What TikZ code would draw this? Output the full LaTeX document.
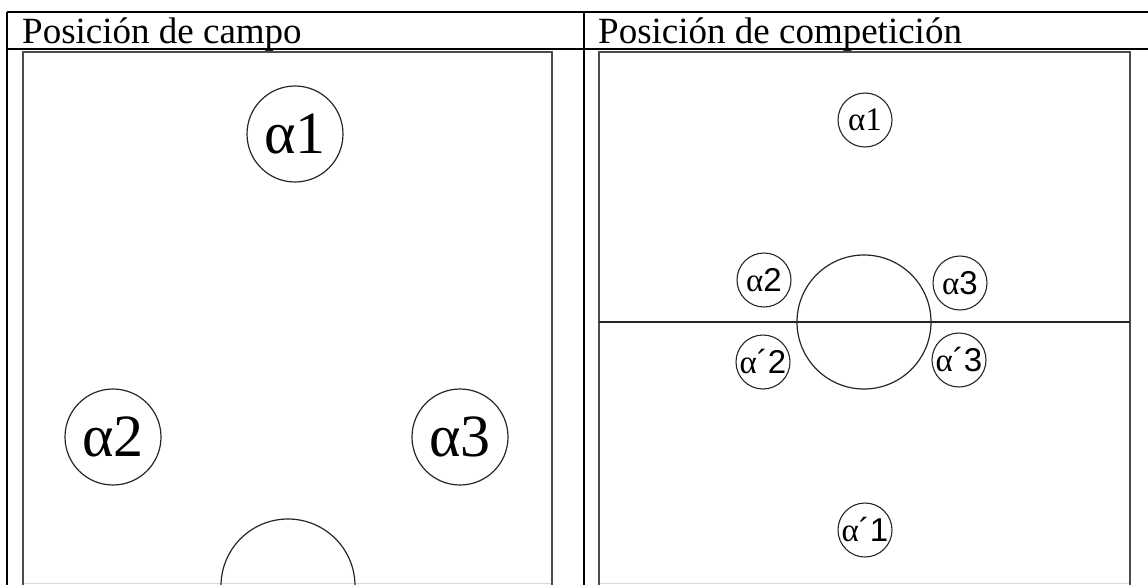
\documentclass[tikz,border=0pt]{standalone}
\usepackage{fontspec}
\setmainfont{Liberation Serif}
\newfontfamily\sansf{Liberation Sans}
\begin{document}
\begin{tikzpicture}[x=1pt,y=-1pt,
  tabline/.style={line width=2.4pt,black},
  panel/.style={line width=1.4pt,draw=black!70},
  bigpos/.style={circle,draw=black!85,line width=1.2pt,minimum size=96pt,inner sep=0pt,font=\fontsize{60}{60}\selectfont},
  smallpos/.style={circle,draw=black!85,line width=1.1pt,minimum size=54pt,inner sep=0pt,font=\fontsize{33}{33}\selectfont},
  head/.style={anchor=base west,inner sep=0pt,font=\fontsize{37}{37}\selectfont}]
\useasboundingbox (0,0) rectangle (1148,584);
% table
\draw[tabline] (7,12) -- (1150,12);
\draw[tabline] (7,49) -- (1150,49);
\draw[tabline] (7,12) -- (7,590);
\draw[tabline] (584,12) -- (584,590);
\node[head] (h1) at (22,43) {Posición de campo};
\node[head] (h2) at (598,43) {Posición de competición};
% left panel
\draw[panel] (23,590) -- (23,52) -- (552,52) -- (552,590);
\draw[black!15,line width=1pt] (24,583) -- (551,583);
\node[bigpos] (a1) at (295,134) {α1};
\node[bigpos] (a2) at (113,437) {α2};
\node[bigpos] (a3) at (460,437) {α3};
\node[circle,draw=black!85,line width=1.2pt,minimum size=134pt,inner sep=0pt] (c1) at (288,586) {};
% right panel
\draw[panel] (599,590) -- (599,52) -- (1130,52) -- (1130,590);
\draw[black!15,line width=1pt] (600,583) -- (1129,583);
\node[circle,draw=black!85,line width=1.2pt,minimum size=134pt,inner sep=0pt] (c2) at (864,322) {};
\coordinate (ml) at (599,322);
\coordinate (mr) at (1130,322);
\draw[black!85,line width=1.2pt] (ml) -- (mr);
\node[smallpos] (b1) at (865,120) {α1};
\node[smallpos] (b2) at (764,280) {α{\sansf 2}};
\node[smallpos] (b3) at (960,283) {α{\sansf 3}};
\node[smallpos] (b4) at (763,362) {α{\sansf ´2}};
\node[smallpos] (b5) at (959,360) {α{\sansf ´3}};
\node[smallpos] (b6) at (865,530) {α{\sansf ´1}};
\end{tikzpicture}
\end{document}
